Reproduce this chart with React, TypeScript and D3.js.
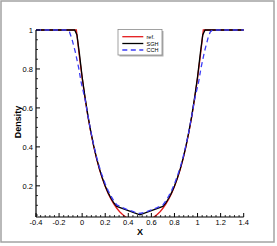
import React from "react";
import * as d3 from "d3";

// x positions and density values
const refX = [-0.4, -0.05, -0.025, 0, 0.025, 0.05, 0.075, 0.1, 0.125, 0.15, 0.175, 0.2, 0.225, 0.25, 0.275, 0.3, 0.325, 0.35, 0.375, 0.4, 0.43,
  0.57, 0.6, 0.625, 0.65, 0.675, 0.7, 0.725, 0.75, 0.775, 0.8, 0.825, 0.85, 0.875, 0.9, 0.925, 0.95, 0.975, 1, 1.025, 1.05, 1.4];
const refY = [1, 1, 0.87, 0.753, 0.648, 0.555, 0.474, 0.402, 0.339, 0.284, 0.237, 0.196, 0.161, 0.131, 0.106, 0.085, 0.067, 0.053, 0.041, 0.031, 0.022,
  0.022, 0.031, 0.041, 0.053, 0.067, 0.085, 0.106, 0.131, 0.161, 0.196, 0.237, 0.284, 0.339, 0.402, 0.474, 0.555, 0.648, 0.753, 0.87, 1, 1];

const sghX = [-0.4, -0.065, -0.045, -0.025, 0, 0.025, 0.05, 0.075, 0.1, 0.125, 0.15, 0.175, 0.2, 0.225, 0.25, 0.275, 0.3, 0.5,
  0.7, 0.725, 0.75, 0.775, 0.8, 0.825, 0.85, 0.875, 0.9, 0.925, 0.95, 0.975, 1, 1.025, 1.045, 1.065, 1.4];
const sghY = [1, 1, 0.975, 0.885, 0.76, 0.655, 0.56, 0.478, 0.405, 0.342, 0.287, 0.24, 0.199, 0.165, 0.136, 0.112, 0.094, 0.051,
  0.094, 0.112, 0.136, 0.165, 0.199, 0.24, 0.287, 0.342, 0.405, 0.478, 0.56, 0.655, 0.76, 0.885, 0.975, 1, 1];

const cchX = [-0.4, -0.13, -0.11, -0.09, -0.06, -0.03, -0.01, 0.025, 0.05, 0.075, 0.1, 0.125, 0.15, 0.175, 0.2, 0.225, 0.25, 0.275, 0.3, 0.35, 0.4, 0.45, 0.5,
  0.55, 0.6, 0.65, 0.7, 0.725, 0.75, 0.775, 0.8, 0.825, 0.85, 0.875, 0.9, 0.925, 0.95, 0.975, 1.01, 1.03, 1.06, 1.09, 1.11, 1.13, 1.4];
const cchY = [1, 1, 0.99, 0.957, 0.889, 0.805, 0.735, 0.645, 0.56, 0.48, 0.41, 0.348, 0.295, 0.25, 0.21, 0.176, 0.147, 0.122, 0.102, 0.088, 0.076, 0.066, 0.058,
  0.066, 0.076, 0.088, 0.102, 0.122, 0.147, 0.176, 0.21, 0.25, 0.295, 0.348, 0.41, 0.48, 0.56, 0.645, 0.735, 0.805, 0.889, 0.957, 0.99, 1, 1];

const xTicks = [-0.4, -0.2, 0, 0.2, 0.4, 0.6, 0.8, 1, 1.2, 1.4];
const xTickLabels = ["-0.4", "-0.2", "0", "0.2", "0.4", "0.6", "0.8", "1", "1.2", "1.4"];
const yTicks = [0.2, 0.4, 0.6, 0.8, 1];
const yTickLabels = ["0.2", "0.4", "0.6", "0.8", "1"];

const seriesNames = ["ref.", "SGH", "CCH"];
const seriesColors = ["#e41a1c", "#000000", "#3b3bf5"];

const W = 277;
const H = 246;
const margin = { left: 36, right: 33.3, top: 30, bottom: 29 };
const font = "'Liberation Sans', Arial, sans-serif";

export default function App() {
  const x = d3.scaleLinear().domain([-0.4, 1.4]).range([margin.left, W - margin.right]);
  const y = d3.scaleLinear().domain([0.04, 1]).range([H - margin.bottom, margin.top]);

  const line = d3
    .line<[number, number]>()
    .x(d => x(d[0]))
    .y(d => y(d[1]));

  const series = [
    { pts: refX.map((v, i) => [v, refY[i]] as [number, number]), dash: undefined },
    { pts: sghX.map((v, i) => [v, sghY[i]] as [number, number]), dash: undefined },
    { pts: cchX.map((v, i) => [v, cchY[i]] as [number, number]), dash: "5,3.5" },
  ];

  const xMinor = d3.range(-0.4, 1.4001, 0.04).filter(v => !xTicks.some(t => Math.abs(t - v) < 1e-6));
  const yMinor = d3.range(0.05, 1.0001, 0.05).filter(v => !yTicks.some(t => Math.abs(t - v) < 1e-6));

  const x0 = margin.left;
  const y0 = H - margin.bottom;

  // legend box
  const lg = { x: 118, y: 29.5, w: 44, h: 25.5 };
  const rowY = [36.7, 43.5, 50];

  return (
    <svg width={W} height={H} style={{ position: "absolute", left: 0, top: 0, background: "#fff" }}>
      <rect x={1} y={1} width={273} height={241} fill="#fff" stroke="#a3a3a3" strokeWidth={1.5} />
      <defs>
        <clipPath id="plotclip">
          <rect x={x0} y={0} width={W - margin.right - x0 + 1} height={y0} />
        </clipPath>
      </defs>

      <g clipPath="url(#plotclip)">
        {series.map((s, i) => (
          <path
            key={i}
            d={line(s.pts) || ""}
            fill="none"
            stroke={seriesColors[i]}
            strokeWidth={1.3}
            strokeDasharray={s.dash}
          />
        ))}
      </g>

      {/* axes */}
      <line x1={x0} x2={x(1.4)} y1={y0} y2={y0} stroke="#000" strokeWidth={1.2} />
      <line x1={x0} x2={x0} y1={y0} y2={y(1)} stroke="#000" strokeWidth={1.2} />

      {xTicks.map((t, i) => (
        <g key={"xt" + i}>
          <line x1={x(t)} x2={x(t)} y1={y0} y2={y0 - 4} stroke="#000" strokeWidth={1} />
          <text x={x(t)} y={y0 + 8} fontSize={7.5} fontFamily={font} textAnchor="middle" fill="#000">
            {xTickLabels[i]}
          </text>
        </g>
      ))}
      {xMinor.map((t, i) => (
        <line key={"xm" + i} x1={x(t)} x2={x(t)} y1={y0} y2={y0 - 2} stroke="#000" strokeWidth={0.8} />
      ))}

      {yTicks.map((t, i) => (
        <g key={"yt" + i}>
          <line x1={x0} x2={x0 + 4} y1={y(t)} y2={y(t)} stroke="#000" strokeWidth={1} />
          <text x={x0 - 3} y={y(t) + 2.7} fontSize={7.5} fontFamily={font} textAnchor="end" fill="#000">
            {yTickLabels[i]}
          </text>
        </g>
      ))}
      {yMinor.map((t, i) => (
        <line key={"ym" + i} x1={x0} x2={x0 + 2} y1={y(t)} y2={y(t)} stroke="#000" strokeWidth={0.8} />
      ))}

      <text x={140} y={235} fontSize={9} fontWeight="bold" fontFamily={font} textAnchor="middle">X</text>
      <text
        transform={`translate(21,122) rotate(-90)`}
        fontSize={9}
        fontWeight="bold"
        fontFamily={font}
        textAnchor="middle"
      >
        Density
      </text>

      {/* legend */}
      <rect x={lg.x + 1.5} y={lg.y + 1.5} width={lg.w} height={lg.h} fill="#b0b0b0" />
      <rect x={lg.x} y={lg.y} width={lg.w} height={lg.h} fill="#fff" stroke="#8a8a8a" strokeWidth={0.8} />
      {seriesNames.map((n, i) => (
        <g key={"lg" + i}>
          <line
            x1={122.3}
            x2={143.3}
            y1={rowY[i]}
            y2={rowY[i]}
            stroke={seriesColors[i]}
            strokeWidth={1.3}
            strokeDasharray={series[i].dash}
          />
          <text x={146.5} y={rowY[i] + 2} fontSize={5.5} fontFamily={font} fill="#000">
            {n}
          </text>
        </g>
      ))}
    </svg>
  );
}
